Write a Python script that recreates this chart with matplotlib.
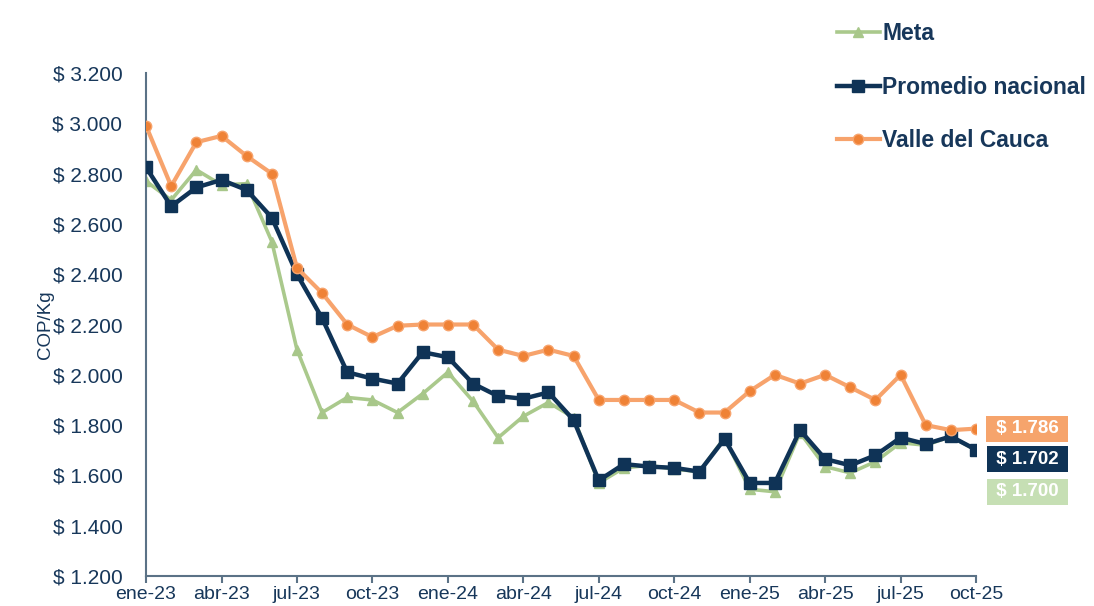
import matplotlib.pyplot as plt
import numpy as np

plt.rcParams['font.family'] = ['Liberation Sans', 'DejaVu Sans']

# months from ene-23 to oct-25
months = ['ene-23', 'feb-23', 'mar-23', 'abr-23', 'may-23', 'jun-23', 'jul-23', 'ago-23',
          'sep-23', 'oct-23', 'nov-23', 'dic-23', 'ene-24', 'feb-24', 'mar-24', 'abr-24',
          'may-24', 'jun-24', 'jul-24', 'ago-24', 'sep-24', 'oct-24', 'nov-24', 'dic-24',
          'ene-25', 'feb-25', 'mar-25', 'abr-25', 'may-25', 'jun-25', 'jul-25', 'ago-25',
          'sep-25', 'oct-25']

meta = [2770, 2695, 2815, 2755, 2760, 2530, 2100, 1850, 1910, 1900, 1850, 1925,
        2010, 1895, 1750, 1835, 1890, 1830, 1570, 1630, 1640, 1625, 1615, 1750,
        1545, 1535, 1770, 1635, 1610, 1655, 1730, 1720, 1755, 1700]

promedio = [2825, 2670, 2745, 2775, 2735, 2625, 2400, 2225, 2010, 1985, 1965, 2090,
            2070, 1965, 1915, 1905, 1930, 1820, 1580, 1645, 1635, 1630, 1615, 1745,
            1570, 1570, 1780, 1665, 1640, 1680, 1750, 1725, 1755, 1702]

valle = [2990, 2750, 2925, 2950, 2870, 2800, 2425, 2325, 2200, 2150, 2195, 2200,
         2200, 2200, 2100, 2075, 2100, 2075, 1900, 1900, 1900, 1900, 1850, 1850,
         1935, 2000, 1965, 2000, 1950, 1900, 2000, 1800, 1780, 1786]

yticks = [1200, 1400, 1600, 1800, 2000, 2200, 2400, 2600, 2800, 3000, 3200]
ytick_labels = ['$ 1.200', '$ 1.400', '$ 1.600', '$ 1.800', '$ 2.000', '$ 2.200',
                '$ 2.400', '$ 2.600', '$ 2.800', '$ 3.000', '$ 3.200']

navy = '#0f3356'
text_col = '#17375a'
spine_col = '#5b7286'

fig = plt.figure(figsize=(10.94, 6.06), dpi=100)
ax = fig.add_axes([0.1335, 0.0495, 0.7587, 0.83])

x = np.arange(len(months))
ax.plot(x, meta, color='#aac98c', lw=2.6, marker='^', ms=7.5,
        mfc='#a8c78a', mec='#a8c78a', label='Meta', zorder=2)
ax.plot(x, promedio, color=navy, lw=3.2, marker='s', ms=8.5,
        mfc=navy, mec=navy, label='Promedio nacional', zorder=3)
ax.plot(x, valle, color='#f7a36c', lw=3, marker='o', ms=7.5,
        mfc='#ef8236', mec='#f7a36c', label='Valle del Cauca', zorder=4)

ax.set_xlim(0, len(months) - 1)
ax.set_ylim(1200, 3200)
ax.set_xticks(x[::3])
ax.set_xticklabels(months[::3])
ax.set_yticks(yticks)
ax.set_yticklabels(ytick_labels)
ax.tick_params(axis='x', colors=spine_col, labelcolor=text_col, labelsize=14,
               length=5, width=1.5, direction='out', pad=2)
ax.tick_params(axis='y', length=0, labelcolor=text_col, labelsize=15, pad=17)
for s in ['top', 'right']:
    ax.spines[s].set_visible(False)
for s in ['left', 'bottom']:
    ax.spines[s].set_color(spine_col)
    ax.spines[s].set_linewidth(1.5)
ax.set_ylabel('COP/Kg', color=text_col, fontsize=13.5, labelpad=-1)

# end labels
last = len(months) - 1
ends = [(valle[-1], '#f6a46c', 0), (promedio[-1], navy, -7), (meta[-1], '#c6dfb4', -30)]
for val, col, dy in ends:
    ax.annotate(' $ ' + '{:,}'.format(val).replace(',', '.') + ' ', xy=(last, val),
                xytext=(37, dy), textcoords='offset points', ha='center', va='center',
                color='white', fontsize=13.5, fontweight='bold', annotation_clip=False,
                bbox=dict(boxstyle='square,pad=0.24', fc=col, ec='none'))

leg = fig.legend(loc='upper left', bbox_to_anchor=(0.75, 0.99), frameon=False,
                 prop={'size': 16.5, 'weight': 'bold'}, labelspacing=1.33,
                 handlelength=1.9, handletextpad=0.1, borderaxespad=0.3)
for t in leg.get_texts():
    t.set_color(text_col)

fig.savefig('out.png', dpi=100)
